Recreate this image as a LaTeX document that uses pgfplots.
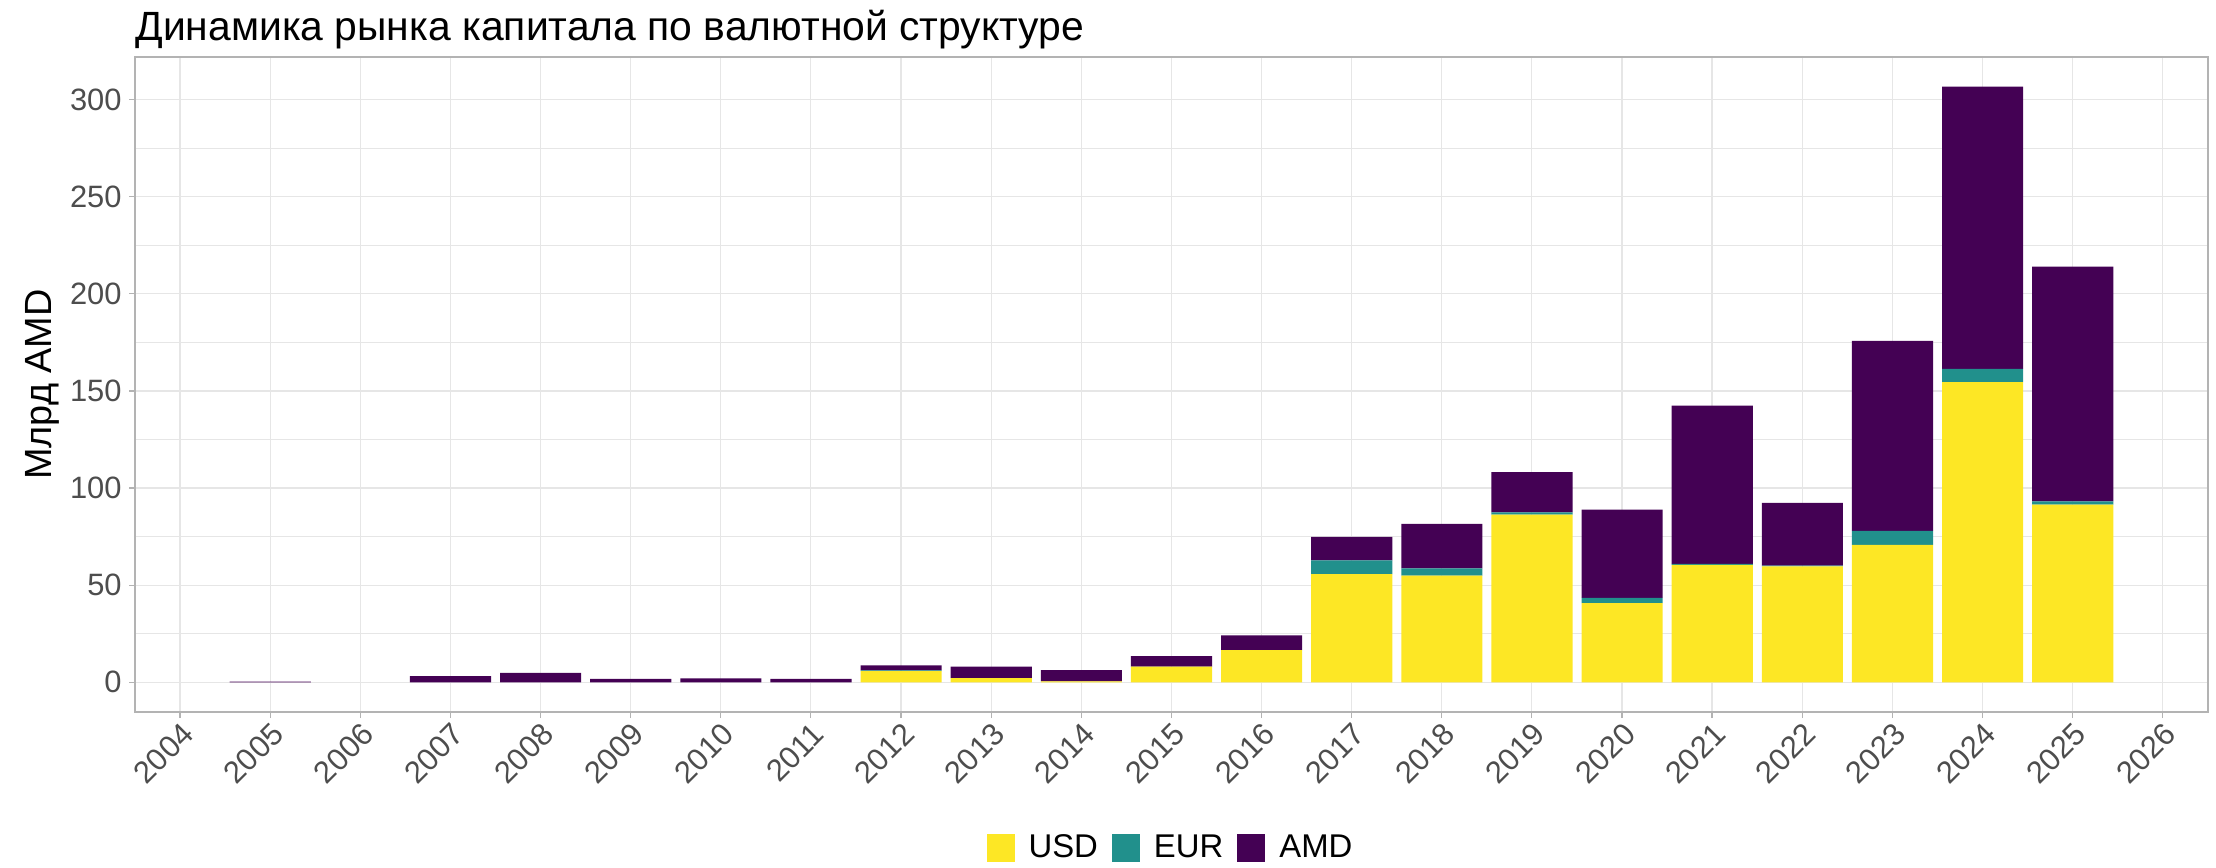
\documentclass[border=0pt]{standalone}
\usepackage{fontspec}
\setmainfont{Liberation Sans}
\usepackage{pgfplots}
\pgfplotsset{compat=1.18}
\definecolor{cUSD}{HTML}{FDE725}
\definecolor{cEUR}{HTML}{21908C}
\definecolor{cAMD}{HTML}{440154}
\definecolor{gridc}{HTML}{E6E6E6}
\definecolor{bordc}{HTML}{B3B3B3}
\definecolor{tickc}{HTML}{4D4D4D}
\begin{document}
\begin{tikzpicture}
\path[use as bounding box] (-67.5bp,-78bp) rectangle (1040.5bp,356bp);
\begin{axis}[
  name=ax,
  scale only axis,
  width=1036.5bp, height=327.5bp,
  xmin=2003.5, xmax=2026.5,
  ymin=-15.3, ymax=321.9,
  ybar stacked, bar width=0.9,
  xtick={2004,...,2026},
  ytick={0,50,...,300},
  minor x tick num=1, minor y tick num=1,
  minor tick length=0pt,
  major tick length=3bp,
  tick align=outside, tick pos=left,
  grid=both,
  major grid style={draw=gridc, line width=0.6bp},
  minor grid style={draw=gridc, line width=0.35bp},
  axis line style={draw=bordc, line width=0.8bp},
  major tick style={draw=bordc, line width=0.6bp},
  /pgf/number format/assume math mode=true,
  xticklabel={\pgfmathprintnumber[1000 sep={}]{\tick}},
  ticklabel style={font=\fontsize{15.5}{18}\selectfont, text=tickc},
  xticklabel style={rotate=45, anchor=north east, inner sep=1bp},
  yticklabel style={inner sep=3.5bp},
  legend style={at={(0.5,-0.2076)}, anchor=center, legend columns=3, draw=none, fill=none,
    font=\fontsize{16.5}{19}\selectfont, column sep=5bp},
  legend image code/.code={\fill[#1] (0bp,-7bp) rectangle (14bp,7bp);},
  legend cell align=left,
]
\addplot[fill=cUSD, draw=none] coordinates {
(2005,0) (2006,0) (2007,0) (2008,0) (2009,0) (2010,0) (2011,0) (2012,5.8) (2013,2.1) (2014,0.5) (2015,8.1) (2016,16.5) (2017,55.7) (2018,54.9) (2019,86.3) (2020,40.8) (2021,60.4) (2022,59.7) (2023,70.8) (2024,154.5) (2025,91.4)};
\addplot[fill=cEUR, draw=none] coordinates {
(2005,0) (2006,0) (2007,0) (2008,0) (2009,0) (2010,0) (2011,0) (2012,0.3) (2013,0) (2014,0) (2015,0) (2016,0) (2017,7.1) (2018,3.8) (2019,1.2) (2020,2.6) (2021,0.6) (2022,0.3) (2023,7.2) (2024,6.9) (2025,1.7)};
\addplot[fill=cAMD, draw=none] coordinates {
(2005,0.3) (2006,0) (2007,3.2) (2008,4.8) (2009,1.8) (2010,2.0) (2011,1.8) (2012,2.6) (2013,6.0) (2014,5.8) (2015,5.4) (2016,7.7) (2017,12.0) (2018,22.9) (2019,20.7) (2020,45.5) (2021,81.4) (2022,32.3) (2023,97.8) (2024,145.2) (2025,120.9)};
\legend{USD, EUR, AMD}
\end{axis}
\node[anchor=base west, inner sep=0pt, font=\fontsize{20.5}{24}\selectfont] at ([yshift=8bp]ax.north west) {Динамика рынка капитала по валютной структуре};
\node[rotate=90, inner sep=0pt, font=\fontsize{19}{22}\selectfont] at ([xshift=-46.5bp]ax.west) {Млрд AMD};
\end{tikzpicture}
\end{document}
